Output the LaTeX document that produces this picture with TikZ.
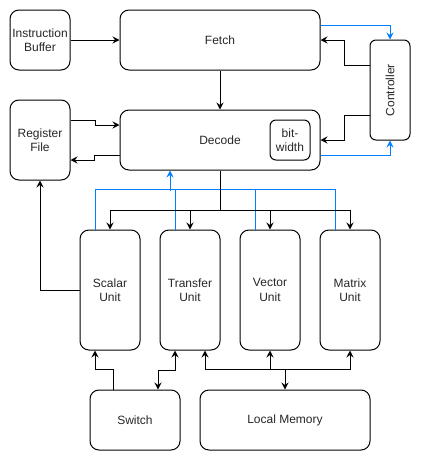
\documentclass[tikz,border=0pt]{standalone}
\usepackage{fontspec}
\setmainfont{Liberation Sans}
\usetikzlibrary{arrows.meta,calc}
\definecolor{linkblue}{HTML}{007FFF}
\tikzset{
  box/.style={draw, line width=1pt, rounded corners=9pt, align=center, inner sep=0pt,
    font=\fontsize{12}{14.5}\selectfont, text=black!85},
  smallbox/.style={box, rounded corners=6pt},
  wire/.style={line width=1pt},
  arr/.style={wire, -{Stealth[length=7pt,width=7pt,inset=2.5pt]}},
  biarr/.style={wire, {Stealth[length=7pt,width=7pt,inset=2.5pt]}-{Stealth[length=7pt,width=7pt,inset=2.5pt]}},
  bwire/.style={wire, draw=linkblue},
  barr/.style={arr, draw=linkblue, color=linkblue},
}
\begin{document}
\begin{tikzpicture}[x=1pt,y=-1pt]
\useasboundingbox (0,0) rectangle (421,461);
% nodes
\node[box, minimum width=60pt, minimum height=60pt] (ib) at (40,40) {Instruction\\Buffer};
\node[box, minimum width=200pt, minimum height=60pt] (fetch) at (220,40) {Fetch};
\node[smallbox, minimum width=40pt, minimum height=100pt] (ctrl) at (390,90) {\rotatebox{90}{Controller}};
\node[box, minimum width=60pt, minimum height=80pt] (rf) at (40,140) {Register\\File};
\node[box, minimum width=200pt, minimum height=60pt] (dec) at (220,140) {Decode};
\node[smallbox, minimum width=40pt, minimum height=40pt] (bw) at (290,140) {bit-\\width};
\node[box, minimum width=60pt, minimum height=120pt] (scalar) at (110,290) {Scalar\\Unit};
\node[box, minimum width=60pt, minimum height=120pt] (transfer) at (190,290) {Transfer\\Unit};
\node[box, minimum width=60pt, minimum height=120pt] (vector) at (270,290) {Vector\\Unit};
\node[box, minimum width=60pt, minimum height=120pt] (matrix) at (350,290) {Matrix\\Unit};
\node[box, minimum width=90pt, minimum height=60pt] (switch) at (135,420) {Switch};
\node[box, minimum width=170pt, minimum height=60pt] (lmem) at (285,420) {Local Memory};
% top connectors
\draw[arr] (ib) -- (fetch);
\draw[arr] (fetch) -- (dec);
\draw[barr] ($(fetch.east)+(0,-15)$) -| (ctrl.north);
\draw[arr] ($(ctrl.west)+(0,-25)$) -- ++(-25,0) |- (fetch.east);
\draw[arr] ($(ctrl.west)+(0,25)$) -- ++(-25,0) |- (dec.east);
\draw[barr] ($(dec.east)+(0,15)$) -| (ctrl.south);
\draw[arr] ($(rf.east)+(0,-20)$) -- ++(25,0) |- ($(dec.west)+(0,-15)$);
\draw[arr] ($(dec.west)+(0,15)$) -- ++(-25,0) |- ($(rf.east)+(0,20)$);
% blue feedback from units
\draw[bwire] ($(scalar.north)+(-15,0)$) |- ($(matrix.north)+(-15,-40)$) -- ($(matrix.north)+(-15,0)$);
\draw[bwire] ($(transfer.north)+(-15,0)$) -- ++(0,-40);
\draw[bwire] ($(vector.north)+(-15,0)$) -- ++(0,-40);
\coordinate (fb) at ($(dec.south)+(-50,20)$);
\draw[barr] (fb) -- (fb |- dec.south);
% decode to units
\coordinate (dbus) at ($(dec.south)+(0,40)$);
\draw[wire] (dec.south) -- (dbus);
\draw[arr] (dbus) -| (scalar.north);
\draw[arr] (dbus) -| (transfer.north);
\draw[arr] (dbus) -| (vector.north);
\draw[arr] (dbus) -| (matrix.north);
% scalar to register file
\draw[arr] (scalar.west) -| (rf.south);
% bottom
\draw[arr] ($(switch.north)+(-22,0)$) -- ++(0,-20) -| ($(scalar.south)+(-15,0)$);
\draw[biarr] ($(transfer.south)+(-15,0)$) -- ++(0,20) -| ($(switch.north)+(23,0)$);
\coordinate (lm) at ($(lmem.north)+(0,-20)$);
\draw[arr] (lm) -| ($(transfer.south)+(15,0)$);
\draw[arr] (lm) -| (vector.south);
\draw[arr] (lm) -| (matrix.south);
\draw[arr] (lm) -- (lmem.north);
\end{tikzpicture}
\end{document}
